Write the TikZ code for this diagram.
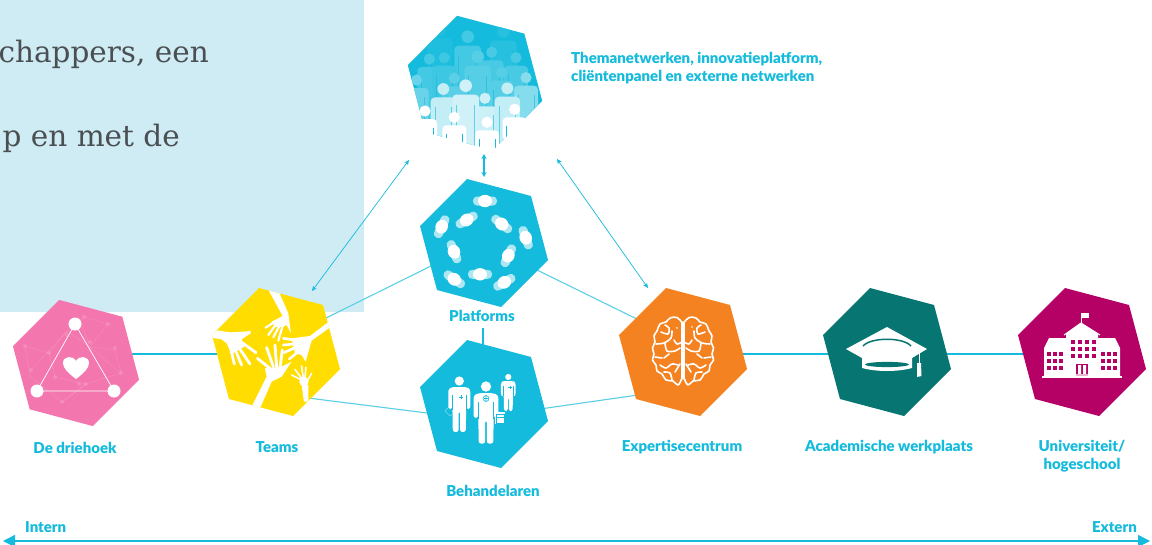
\documentclass[tikz,border=0pt]{standalone}
\usepackage{fontspec}
\setmainfont{Lato}[BoldFont={Lato Black}]
\newfontfamily\slab{DejaVu Serif}
\usetikzlibrary{arrows.meta}
\definecolor{cy}{HTML}{14BBDC}
\definecolor{bgb}{HTML}{CFEBF4}
\definecolor{pinkh}{HTML}{F377AE}
\definecolor{yel}{HTML}{FFDD00}
\definecolor{ora}{HTML}{F58220}
\definecolor{tea}{HTML}{077672}
\definecolor{mag}{HTML}{B50065}
\definecolor{grayt}{HTML}{4A4F52}
\newcommand{\hexp}{(-17,-64)--(47,-47)--(64,17)--(17,64)--(-47,47)--(-64,-17)--cycle}
\newcommand{\pers}[4]{\begin{scope}[shift={(#1,#2)},scale=#3]
 \fill[white!#4!cy] (0,0) circle (5.6);
 \fill[white!#4!cy,rounded corners=4pt] (-12,8) rectangle (12,70);
 \draw[cy,opacity=.6,line width=.7pt] (-8,17)--(-8,70) (8,17)--(8,70);
 \end{scope}}
\newcommand{\persw}[3]{\begin{scope}[shift={(#1,#2)}]
 \fill[white] (0,0) circle (5.6);
 \fill[white,rounded corners=4pt] (-12,8) rectangle (12,#3);
 \end{scope}}
\newcommand{\slits}[3]{\begin{scope}[shift={(#1,#2)}]
 \draw[cy,line width=.8pt] (-8,17)--(-8,#3) (8,17)--(8,#3);
 \end{scope}}
\newcommand{\seat}[3]{\begin{scope}[shift={(#1,#2)},rotate=#3]
 \fill[white,opacity=.65,rounded corners=4pt] (-12,-4.5) rectangle (12,4.5);
 \fill[white] (0,0) ellipse (7 and 6.2);
 \end{scope}}
\newcommand{\doc}[3]{\begin{scope}[shift={(#1,#2)},scale=#3]
 \fill[white] (0,0) circle (4.6);
 \fill[white,rounded corners=2.5pt] (-11,14.5)--(-11,28)--(-7,28)--(-7,18)--(-6.5,51)--(-.7,51)--(-.7,30)--(.7,30)--(.7,51)--(6.5,51)--(7,18)--(7,28)--(11,28)--(11,8)--(7,6)--(-7,6)--(-11,8)--cycle;
 \draw[cy,line width=.7pt] (-7,14)--(-7,29) (7,14)--(7,29);
 \end{scope}}
\begin{document}
\begin{tikzpicture}[x=1pt,y=-1pt,
  lab/.style={text=cy,font=\bfseries\fontsize{15}{18}\selectfont,align=center,inner sep=0pt},
  thin link/.style={draw=cy!70,line width=1.1pt},
  thick link/.style={draw=cy,line width=1.7pt},
  dbl/.style={draw=cy,line width=.7pt,{Stealth[length=5pt,width=4.5pt]}-{Stealth[length=5pt,width=4.5pt]}},
  bgtext/.style={text=grayt,font=\slab\fontsize{29.5}{33}\selectfont,inner sep=0pt}]
\useasboundingbox (0,0) rectangle (1152,544);
\fill[white] (0,0) rectangle (1152,544);
\fill[bgb] (0,0) rectangle (364,312);
\node[bgtext,anchor=base east] (t1) at (209,62) {chappers, een};
\node[bgtext,anchor=base east] (t2) at (180,146) {p en met de};
% anchor coordinates for connectors
\coordinate (de) at (76,363); \coordinate (te) at (276,352); \coordinate (pl) at (484,243);
\coordinate (be) at (484,404); \coordinate (ex) at (683,352); \coordinate (ac) at (887,352);
\coordinate (un) at (1082,352);
\coordinate (deR) at (130,354); \coordinate (teL) at (220,354);
\coordinate (exR) at (740,354); \coordinate (unL) at (1025,354);
\coordinate (ar1a) at (409,160); \coordinate (ar1b) at (312,291);
\coordinate (ar2a) at (557,159); \coordinate (ar2b) at (648,288);
\coordinate (ar3a) at (484,154); \coordinate (ar3b) at (484,177);
\coordinate (v1) at (483,328); \coordinate (v2) at (483,346);
\coordinate (teP) at (322,320); \coordinate (plT) at (435,264);
\coordinate (teB) at (308,398); \coordinate (beT) at (435,414);
\coordinate (plE) at (535,269); \coordinate (exP) at (645,323);
\coordinate (beE) at (540,409); \coordinate (exB) at (645,394);
\draw[thin link] (teP) -- (plT);
\draw[thin link] (teB) -- (beT);
\draw[thin link] (plE) -- (exP);
\draw[thin link] (beE) -- (exB);
\draw[thick link] (deR) -- (teL);
\draw[thick link] (exR) -- (unL);
\draw[draw=cy,line width=1.4pt] (v1) -- (v2);
\draw[dbl] (ar1a) -- (ar1b);
\draw[dbl] (ar2a) -- (ar2b);
\draw[draw=cy,line width=1.2pt,{Stealth[length=5pt,width=5pt]}-{Stealth[length=5pt,width=5pt]}] (ar3a) -- (ar3b);
% De driehoek
\begin{scope}[shift={(de)},scale=.985]\fill[pinkh] \hexp;\end{scope}
\begin{scope}[white,opacity=.13,line width=.5pt]
 \draw (25,346)--(49,353)--(67,331)--(84,317)--(108,324)--(90,347)--(115,350)--(121,373)--(86,384)--(62,402)--(30,376)--(25,346);
 \draw (49,353)--(55,377)--(86,384)--(62,402) (90,347)--(67,331)--(31,370) (79,317)--(90,347)--(121,373);
 \foreach \p in {(25,346),(49,353),(67,335),(84,317),(108,324),(90,342),(115,348),(121,373),(86,384),(62,402),(31,370),(55,377),(79,384)} \fill \p circle (2);
\end{scope}
\coordinate (tA) at (75,324); \coordinate (tB) at (37,391); \coordinate (tC) at (114,391);
\draw[white,line width=.7pt] (tA)--(tB)--(tC)--cycle;
\fill[white] (tA) circle (6.5) (tB) circle (6.5) (tC) circle (6.5);
\fill[white] (76,379) .. controls (68,373) and (63,368) .. (63,363) .. controls (63,356) and (73,355) .. (76,361) .. controls (79,355) and (89,356) .. (89,363) .. controls (89,368) and (84,373) .. (76,379) -- cycle;
% Teams
\begin{scope}[shift={(te)}]\fill[yel] \hexp;\end{scope}
\begin{scope}
\clip[shift={(te)}] \hexp;
\begin{scope}[shift={(0,280)},scale=.3333,white,line cap=round,line join=round]
 % hand A top
 \fill (800,20)--(830,20)--(865,100)--(873,160)--(860,135)--(845,142)--(825,140)--(815,125)--(848,108)--cycle;
 \draw[line width=2.2pt,white] (825,125)--(797,143) (828,133)--(805,165) (838,138)--(820,172) (848,138)--(835,182);
 % hand B left
 \fill (625,147)--(690,157)--(730,155)--(752,153)--(752,160)--(725,178)--(733,200)--(712,212)--(695,222)--(680,190)--(665,178)--(625,172)--cycle;
 \draw[line width=2.8pt,white] (725,187)--(768,218) (715,200)--(750,252) (705,208)--(725,255) (692,205)--(703,252);
 % hand C right
 \fill (1000,115)--(1000,135)--(935,182)--(917,245)--(905,225)--(885,220)--(875,175)--(930,168)--cycle;
 \draw[line width=2.6pt,white] (885,180)--(850,175) (885,192)--(850,195) (885,203)--(852,218) (895,215)--(868,237);
 % hand D bottom
 \fill (755,380)--(800,290)--(795,265)--(845,260)--(875,245)--(845,290)--(815,305)--(780,385)--cycle;
 \draw[line width=2.8pt,white] (810,265)--(772,235) (820,260)--(800,203) (830,260)--(825,195) (840,265)--(847,210);
 % hand E
 \fill (905,315)--(925,315)--(925,365)--(912,365)--cycle;
 \fill (912,305) circle (14);
 \draw[line width=1.6pt,white] (905,300)--(875,285) (905,295)--(885,268) (910,295)--(905,258) (915,295)--(918,262) (920,305)--(935,280);
\end{scope}
\end{scope}
% Network hexagon with people
\coordinate (th) at (475,83);
\begin{scope}[shift={(th)},scale=1.05]\fill[cy] \hexp;\end{scope}
\begin{scope}
\clip[shift={(th)},scale=1.05] \hexp;
\pers{440}{30}{1.05}{5}\pers{503.3}{31.7}{1.1}{8}\pers{467.7}{36.7}{1.12}{20}
\pers{429.3}{59}{1}{20}\pers{444.3}{57.7}{1}{18}\pers{491.7}{52.3}{1}{22}\pers{516}{57.7}{1}{22}\pers{477.7}{56.7}{1.12}{28}
\pers{501.7}{72.7}{1}{28}\pers{454.3}{78.3}{1}{30}\pers{416.7}{80}{1}{36}\pers{526}{77.7}{1}{48}
\pers{485}{98.3}{1}{78}\pers{443.3}{89}{1.05}{75}\pers{507.3}{88.3}{1.05}{75}\pers{465.7}{85.7}{1.12}{80}
\end{scope}
\persw{425}{111}{29}\persw{454.3}{117.3}{30}\persw{487}{122.3}{31}\persw{514.7}{109.3}{31}
\begin{scope}
\clip[shift={(th)},scale=1.05] \hexp;
\slits{425}{111}{29}\slits{454.3}{117.3}{30}\slits{487}{122.3}{31}\slits{514.7}{109.3}{31}
\end{scope}
% Platforms
\begin{scope}[shift={(pl)}]\fill[cy] \hexp;\end{scope}
\seat{485}{201}{0}\seat{441.7}{226.7}{65}\seat{466.7}{220}{30}\seat{501.7}{224}{-38}\seat{525.7}{237.7}{-70}
\seat{454}{251.7}{-68}\seat{508.3}{255.7}{65}\seat{480}{274.3}{0}\seat{454.3}{279.3}{-35}\seat{504.3}{282.3}{30}
% Behandelaren
\begin{scope}[shift={(be)}]\fill[cy] \hexp;\end{scope}
\doc{459.3}{381}{1}\doc{486}{386.5}{1.12}\doc{508.3}{377}{.67}
\draw[cy,line width=.7pt] (461.3,395)--(461.3,399) (459.3,397)--(463.3,397) (510,385.5)--(510,389) (508.2,387)--(511.8,387);
\draw[cy,line width=.6pt] (486,398.5) circle (3) (484,398.5)--(488,398.5) (486,396)--(486,401);
\fill[white] (495,412) rectangle (505,424);
\draw[cy,line width=.6pt] (496,414) rectangle (504,423) (496,417)--(504,417);
\draw[white,opacity=.45,line width=.5pt] (450,406)--(445,411)--(450,416)--(453,414);
% Expertise
\begin{scope}[shift={(ex)}]\fill[ora] \hexp;\end{scope}
\begin{scope}[shift={(ex)},white,line width=1.6pt,line cap=round,line join=round]
\foreach \s in {1,-1}{\begin{scope}[xscale=\s]
 \draw plot[smooth,tension=.7] coordinates {(-1.5,-30)(-6,-34.5)(-13,-34)(-17,-30)(-23,-28)(-26,-21)(-29,-16)(-28,-10)(-30.5,-4)(-29,2)(-30.5,8)(-27,13)(-26,19)(-21,22)(-17,28)(-10,29)(-5,33)(-1.5,27)};
 \draw (-1,-30)--(-1,27);
 \draw plot[smooth] coordinates {(-18,-27)(-14,-24)(-15,-18)(-22,-20)};
 \draw plot[smooth] coordinates {(-1,-10)(-6,-8)(-9,-12)};
 \draw plot[smooth] coordinates {(-27,-8)(-19,-9)(-12,-14)(-11,-21)};
 \draw plot[smooth] coordinates {(-18,-9)(-16,-1)(-8,-1)(-3,-4)};
 \draw plot[smooth] coordinates {(-28,5)(-21,6)};
 \draw plot[smooth] coordinates {(-19,6)(-14,2)};
 \draw plot[smooth] coordinates {(-23,13)(-17,16)(-11,12)(-5,13)};
 \draw plot[smooth] coordinates {(-19,20)(-13,21)(-11,28)};
 \draw plot[smooth] coordinates {(-8,20)(-3,12)};
\end{scope}}
\fill (-6,-24) circle (.8) (9,-25) circle (.8);
\end{scope}
% Cap
\begin{scope}[shift={(ac)}]\fill[tea] \hexp;\end{scope}
\begin{scope}[shift={(ac)}]
 \fill[white] (-41,-3)--(0,-25)--(40,-3)--(25,6)--(25,16)..controls(10,20) and (-10,20)..(-25,16)--(-25,6)--cycle;
 \draw[tea,line width=1.5pt] (-24,-6)..controls(-16,-15) and (16,-15)..(24,-6);
 \fill[tea] (0,12.5) ellipse (22 and 2.6);
 \draw[white,line width=.8pt] (32,0)--(32,11);
 \fill[white] (30,11)--(34,11)--(34.5,24)--(30,25)--cycle;
\end{scope}
% University
\begin{scope}[shift={(un)}]\fill[mag] \hexp;\end{scope}
\begin{scope}[shift={(un)}]
 \fill[white] (-40,24) rectangle (40,26);
 \fill[white] (-38,-4)--(-33,-14)--(-16,-14)--(-16,-4)--cycle (38,-4)--(33,-14)--(16,-14)--(16,-4)--cycle;
 \fill[white] (-38,-4) rectangle (-16,24) (16,-4) rectangle (38,24);
 \fill[white] (-16,-18)--(-1,-29)--(16,-18)--(16,24)--(-16,24)--cycle;
 \draw[white,line width=1pt] (-18,-17)--(-1,-29)--(18,-17);
 \draw[white,line width=.8pt] (-1,-29)--(-1,-38);
 \fill[white] (-1,-39) rectangle (7,-34);
 \foreach \a in {-11,-4,3,10}\foreach \b in {-12,-5,2} \fill[mag] (\a,\b) rectangle ++(4,4);
 \foreach \a in {-35,-29,-23,19,25,31}\foreach \b in {0,7,14} \fill[mag] (\a,\b) rectangle ++(3.8,4);
 \fill[mag] (-6,12) rectangle (6,24);
 \fill[white] (-4,13) rectangle (-1,22) (1,13) rectangle (4,22);
 \fill[white,opacity=.7] (-10,22) rectangle (10,24);
\end{scope}
% labels
\node[lab,anchor=west,align=left] (l1) at (571,68) {Themanetwerken, innovatieplatform,\\[-.5pt]cliëntenpanel en externe netwerken};
\node[lab] (l2) at (75,448) {De driehoek};
\node[lab] (l3) at (277,447) {Teams};
\node[lab] (l4) at (482,316) {Platforms};
\node[lab] (l5) at (493,491) {Behandelaren};
\node[lab] (l6) at (682,447.5) {Expertisecentrum};
\node[lab] (l7) at (889,447.5) {Academische werkplaats};
\node[lab] (l8) at (1082,456.5) {Universiteit/\\hogeschool};
\node[lab,anchor=west] (l9) at (25,527) {Intern};
\node[lab,anchor=east] (l10) at (1137,527) {Extern};
\coordinate (axL) at (3,541); \coordinate (axR) at (1150,541);
\draw[draw=cy,line width=1.5pt,{Triangle[length=12pt,width=12pt]}-{Triangle[length=12pt,width=12pt]}] (axL) -- (axR);
\end{tikzpicture}
\end{document}
